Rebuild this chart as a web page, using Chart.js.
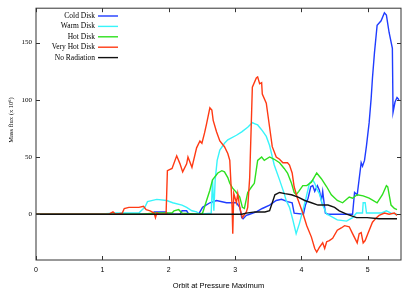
<!DOCTYPE html>
<html>
<head>
<meta charset="utf-8">
<script src="https://cdn.jsdelivr.net/npm/chart.js@4/dist/chart.umd.min.js"></script>
<style>
html,body{margin:0;padding:0;background:#fff;}
#wrap{width:415px;height:292px;position:relative;}
</style>
</head>
<body>
<div id="wrap"><canvas id="c" width="415" height="292"></canvas></div>
<script>
// ---- data ----
const seriesNames = ["Cold Disk", "Warm Disk", "Hot Disk", "Very Hot Disk", "No Radiation"];
const seriesColors = ["#1f3cff", "#38f4fa", "#2ee01e", "#ff3a14", "#111111"];

const coldX = [0, 1.5, 1.75, 1.78, 1.96, 1.98, 2.17, 2.2, 2.27, 2.3, 2.45, 2.51, 2.62, 2.72, 2.87, 3.02, 3.07, 3.1, 3.12, 3.17, 3.22, 3.32, 3.41, 3.52, 3.62, 3.7, 3.79, 3.86, 3.89, 4.03, 4.06, 4.1, 4.14, 4.17, 4.2, 4.24, 4.27, 4.3, 4.32, 4.36, 4.4, 4.77, 4.8, 4.84, 4.87, 4.9, 4.92, 4.95, 4.98, 4.99, 5.02, 5.05, 5.07, 5.1, 5.13, 5.14, 5.2, 5.25, 5.28, 5.32, 5.37, 5.38, 5.41, 5.44, 5.47];
const coldY = [0, 0, 0, 2, 2, 0, 0, 3, 3, 0, 0, 6, 10, 12, 10, 10, 6, -3, -4, -1, 0, 2, 5, 8, 12, 13, 11, 10, 1, 0, 8, 14, 24, 25, 20, 25, 21, 12, 20, 1, 0, 0, 19, 17, 31, 45, 42, 47, 60, 65, 80, 101, 119, 141, 159, 165, 169, 176, 174, 159, 145, 89, 98, 102, 100];

const warmX = [0, 0.95, 1.2, 1.55, 1.6, 1.64, 1.68, 1.82, 1.97, 2.06, 2.2, 2.27, 2.35, 2.42, 2.47, 2.64, 2.66, 2.68, 2.7, 2.73, 2.77, 2.84, 2.89, 3.02, 3.1, 3.19, 3.26, 3.3, 3.34, 3.41, 3.47, 3.52, 3.59, 3.67, 3.74, 3.77, 3.82, 3.87, 3.92, 3.97, 4.02, 4.06, 4.12, 4.17, 4.2, 4.24, 4.27, 4.32, 4.38, 4.42, 4.54, 4.68, 4.77, 4.83, 4.92, 4.93, 4.96, 4.98, 5.2, 5.28, 5.35, 5.44];
const warmY = [0, 0, 1, 1, 4, 6, 11, 13, 12, 10, 8, 6, 3, 2, 0, 1, 30, 3, 30, 47, 56, 62, 65, 69, 72, 76, 80, 79, 78, 73, 68, 60, 43, 30, 18, 12, 6, -5, -17, -8, 3, 12, 27, 30, 27, 21, 18, 8, 0, -1, -5, -6, -3, 1, 1, 10, 10, 1, 1, 3, 1, 0];

const hotX = [0, 1.6, 1.8, 2.05, 2.08, 2.15, 2.2, 2.45, 2.51, 2.57, 2.62, 2.66, 2.74, 2.8, 2.84, 2.89, 2.92, 2.96, 3.02, 3.07, 3.11, 3.14, 3.19, 3.25, 3.29, 3.34, 3.4, 3.44, 3.52, 3.59, 3.67, 3.74, 3.79, 3.85, 3.89, 3.92, 3.96, 4.02, 4.08, 4.15, 4.23, 4.3, 4.38, 4.45, 4.54, 4.62, 4.72, 4.77, 4.84, 4.93, 5.02, 5.14, 5.22, 5.28, 5.3, 5.35, 5.4, 5.44];
const hotY = [0, 0, 1, 1, 3, 4, 1, 0, 1, 12, 21, 30, 36, 38, 37, 32, 27, 23, 19, 15, 6, 5, 19, 24, 27, 47, 50, 47, 50, 48, 45, 40, 36, 27, 19, 17, 20, 25, 25, 28, 36, 31, 24, 17, 12, 10, 15, 14, 17, 16, 14, 10, 17, 25, 24, 8, 5, 4];

const veryHotX = [0, 1.1, 1.16, 1.2, 1.3, 1.33, 1.4, 1.55, 1.62, 1.66, 1.72, 1.78, 1.8, 1.82, 1.86, 1.96, 1.98, 2.05, 2.12, 2.17, 2.21, 2.27, 2.29, 2.35, 2.42, 2.47, 2.5, 2.54, 2.57, 2.62, 2.65, 2.67, 2.72, 2.77, 2.84, 2.89, 2.92, 2.94, 2.955, 2.965, 2.98, 3.02, 3.04, 3.07, 3.11, 3.17, 3.19, 3.22, 3.25, 3.26, 3.32, 3.34, 3.37, 3.4, 3.41, 3.47, 3.52, 3.56, 3.62, 3.67, 3.72, 3.79, 3.82, 3.86, 3.89, 3.94, 4.02, 4.08, 4.15, 4.2, 4.23, 4.27, 4.32, 4.35, 4.38, 4.42, 4.47, 4.54, 4.6, 4.65, 4.72, 4.77, 4.84, 4.87, 4.9, 4.93, 4.96, 5.0, 5.07, 5.13, 5.17, 5.25, 5.32, 5.4, 5.44];
const veryHotY = [0, 0, 2, 0, 1, 5, 6, 6, 7, 4, 3, 1, -3, 1, 0, 0, 38, 40, 51, 44, 37, 44, 50, 41, 58, 64, 62, 71, 79, 93, 91, 82, 72, 64, 59, 53, 47, 24, 6, -17, 18, 10, 18, 6, -3, 2, 6, 32, 91, 111, 119, 120, 114, 115, 105, 97, 76, 59, 50, 48, 45, 45, 43, 36, 24, 14, 1, -10, -20, -30, -33, -29, -25, -30, -24, -23, -21, -14, -12, -10, -11, -17, -25, -17, -16, -25, -23, -17, -7, -3, -1, 1, 0, 1, -1];

const noRadX = [0, 3.1, 3.17, 3.3, 3.45, 3.52, 3.56, 3.6, 3.67, 3.75, 3.85, 3.95, 4.05, 4.15, 4.25, 4.4, 4.5, 4.57, 4.68, 4.83, 4.99, 5.17, 5.44];
const noRadY = [0, 0, 1, 2, 2, 3, 10, 17, 19, 18, 17, 15, 12, 10, 8, 8, 6, 3, 0, -3, -3, -4, -4];

const xTicks = [0, 1, 2, 3, 4, 5];
const yTicks = [0, 50, 100, 150];
const xLabel = "Orbit at Pressure Maximum";
const yLabel = "Mass flux (x 10\u2076)";

// ---- build ----
const allX = [coldX, warmX, hotX, veryHotX, noRadX];
const allY = [coldY, warmY, hotY, veryHotY, noRadY];
const datasets = seriesNames.map((name, i) => ({
  label: name,
  data: allX[i].map((x, j) => ({x: x, y: allY[i][j]})),
  borderColor: seriesColors[i],
  backgroundColor: seriesColors[i],
  borderWidth: 1.4,
  pointRadius: 0,
  tension: 0,
  fill: false,
  order: 5 - i
}));

const decor = {
  id: 'decor',
  afterDraw(chart) {
    const ctx = chart.ctx;
    const a = chart.chartArea;
    const xs = chart.scales.x, ys = chart.scales.y;
    ctx.save();
    ctx.strokeStyle = '#333';
    ctx.lineWidth = 1;
    ctx.strokeRect(a.left, a.top, a.right - a.left, a.bottom - a.top);
    ctx.beginPath();
    const tl = 4;
    xTicks.forEach(v => {
      const p = Math.round(xs.getPixelForValue(v)) + 0.5;
      ctx.moveTo(p, a.bottom); ctx.lineTo(p, a.bottom - tl);
      ctx.moveTo(p, a.top); ctx.lineTo(p, a.top + tl);
    });
    yTicks.forEach(v => {
      const p = Math.round(ys.getPixelForValue(v)) + 0.5;
      ctx.moveTo(a.left, p); ctx.lineTo(a.left + tl, p);
      ctx.moveTo(a.right, p); ctx.lineTo(a.right - tl, p);
    });
    ctx.stroke();

    // legend
    ctx.font = '7.5px "Liberation Serif", serif';
    ctx.textAlign = 'right';
    ctx.textBaseline = 'middle';
    chart.data.datasets.forEach((d, i) => {
      const y = 16 + i * 10.4;
      ctx.fillStyle = '#000';
      ctx.fillText(d.label, 95, y);
      ctx.strokeStyle = d.borderColor;
      ctx.lineWidth = 1.4;
      ctx.beginPath();
      ctx.moveTo(98, y); ctx.lineTo(118, y);
      ctx.stroke();
    });

    // axis titles
    ctx.fillStyle = '#000';
    ctx.font = '7.5px "Liberation Sans", sans-serif';
    ctx.textAlign = 'center';
    ctx.textBaseline = 'middle';
    ctx.fillText(xLabel, (a.left + a.right) / 2, 286);
    ctx.save();
    ctx.translate(11, 120);
    ctx.rotate(-Math.PI / 2);
    ctx.font = '6.5px "Liberation Serif", serif';
    ctx.fillText(yLabel, 0, 0);
    ctx.restore();
    ctx.restore();
  }
};

new Chart(document.getElementById('c'), {
  type: 'line',
  data: {datasets: datasets},
  options: {
    responsive: false,
    animation: false,
    layout: {padding: {top: 8, right: 14, left: 0, bottom: 0}},
    plugins: {legend: {display: false}, tooltip: {enabled: false}},
    scales: {
      x: {
        type: 'linear', min: 0, max: 5.5,
        afterBuildTicks: s => { s.ticks = xTicks.map(v => ({value: v})); },
        afterFit: s => { s.height = 32; },
        grid: {display: false, drawTicks: false},
        border: {display: false},
        ticks: {color: '#000', padding: 6, maxRotation: 0,
                font: {family: '"Liberation Sans", sans-serif', size: 7}}
      },
      y: {
        type: 'linear', min: -40, max: 180,
        afterBuildTicks: s => { s.ticks = yTicks.map(v => ({value: v})); },
        afterFit: s => { s.width = 36; },
        grid: {display: false, drawTicks: false},
        border: {display: false},
        ticks: {color: '#000', padding: 4,
                font: {family: '"Liberation Serif", serif', size: 7}}
      }
    }
  },
  plugins: [decor]
});
</script>
</body>
</html>
